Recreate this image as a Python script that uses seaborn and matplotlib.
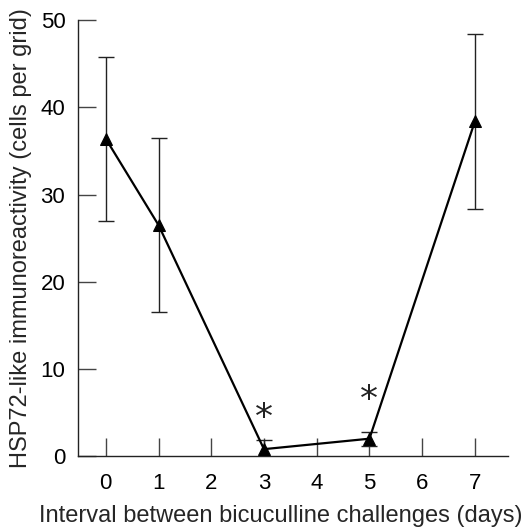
import matplotlib
matplotlib.use("Agg")
import matplotlib.pyplot as plt
import seaborn as sns
import numpy as np
import pandas as pd

# Data
interval_days = [0, 1, 3, 5, 7]
hsp72_mean = [36.4, 26.5, 0.8, 2.0, 38.4]
hsp72_err = [9.4, 10.0, 1.1, 0.8, 10.0]
star_days = [3, 5]
star_heights = [4.4, 6.4]
x_ticks = [0, 1, 2, 3, 4, 5, 6, 7]
y_ticks = [0, 10, 20, 30, 40, 50]

sns.set_theme(style="ticks")
plt.rcParams['font.family'] = ['Liberation Sans', 'DejaVu Sans']

fig = plt.figure(figsize=(5.26, 5.31), dpi=100)
ax = fig.add_axes([0.148, 0.141, 0.818, 0.821])

df = pd.DataFrame({"x": interval_days, "y": hsp72_mean})
ax.errorbar(interval_days, hsp72_mean, yerr=hsp72_err, fmt='none',
            ecolor='#222222', elinewidth=1.0, capsize=6, capthick=1.0, zorder=2)
sns.lineplot(data=df, x="x", y="y", ax=ax, color='black', linewidth=1.6,
             marker='^', markersize=9, markeredgecolor='black', zorder=3)

for xs, ys in zip(star_days, star_heights):
    ax.text(xs, ys, "*", ha='center', va='center', fontsize=26,
            family=['DejaVu Sans'], color='#222222')

ax.set_xlim(-0.53, 7.63)
ax.set_ylim(0, 50)
ax.set_xticks(x_ticks)
ax.set_yticks(y_ticks)
ax.tick_params(axis='both', direction='in', length=13, width=1.0, color='#444444',
               labelsize=16, labelcolor='black')
ax.tick_params(axis='x', pad=12)
ax.tick_params(axis='y', pad=9)
for s in ['top', 'right']:
    ax.spines[s].set_visible(False)
for s in ['left', 'bottom']:
    ax.spines[s].set_color('#222222')
    ax.spines[s].set_linewidth(1.0)

ax.set_xlabel("Interval between bicuculline challenges (days)", fontsize=17)
ax.xaxis.set_label_coords(0.472, -0.113)
ax.set_ylabel("HSP72-like immunoreactivity (cells per grid)", fontsize=17, labelpad=6)

fig.savefig("out.png", dpi=100)
